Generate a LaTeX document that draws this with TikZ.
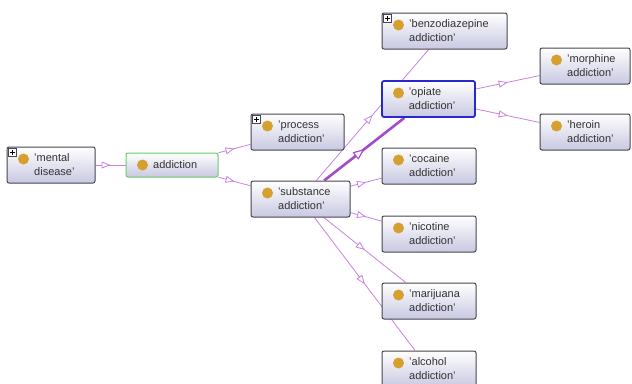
\documentclass[tikz,border=0pt]{standalone}
\usepackage{fontspec}
\setmainfont{Liberation Sans}
\usetikzlibrary{arrows.meta,decorations.markings,backgrounds}

\definecolor{clsline}{RGB}{70,70,80}
\definecolor{clsbot}{RGB}{200,200,226}
\definecolor{clsdot}{RGB}{214,160,48}
\definecolor{isacol}{RGB}{198,132,222}
\definecolor{isadark}{RGB}{166,74,204}
\definecolor{selgreen}{RGB}{104,204,104}
\definecolor{selblue}{RGB}{40,40,204}

\tikzset{
  cls/.style={draw=clsline, line width=1pt, rounded corners=2pt,
    top color=white, bottom color=clsbot,
    minimum width=94pt, minimum height=36pt, inner sep=0pt,
    path picture={\fill[clsdot] ([shift={(16.5pt,-12pt)}]path picture bounding box.north west) circle (5.5pt);}},
  clstext/.style={anchor=west, xshift=27.5pt, inner sep=0pt, align=left,
    font=\fontsize{11}{14}\selectfont, text=black!80},
  isa/.style={draw=isacol, line width=0.8pt, postaction={decorate},
    decoration={markings, mark=at position 0.5 with {\arrow{Triangle[length=9pt,width=7pt,fill=white]}}}},
  bigisa/.style={isa, draw=isadark, line width=2.6pt,
    decoration={markings, mark=at position 0.5 with {\arrow{Triangle[length=11pt,width=9pt,line width=1pt,fill=white]}}}},
}

\begin{document}
\begin{tikzpicture}[x=1pt,y=1pt]
    \useasboundingbox (0,0) rectangle (632,-383);
    \clip (0,0) rectangle (632,-383);

    % First column of nodes
    \node[cls, minimum width=88pt, label={[clstext]west:{'mental\\disease'}}] (mental) at (51,-165) {};
    \node[cls, draw=selgreen, minimum width=92pt, minimum height=24pt, label={[clstext]west:{addiction}}] (addiction) at (172,-165) {};

    % Second column of nodes
    \node[cls, minimum width=93pt, label={[clstext]west:{'process\\addiction'}}] (process) at (297.5,-132) {};
    \node[cls, minimum width=99pt, label={[clstext]west:{'substance\\addiction'}}] (substance) at (300.5,-199) {};

    % Third column of nodes
    \node[cls, minimum width=125pt, label={[clstext]west:{'benzodiazepine\\addiction'}}] (benzo) at (444.5,-31) {};
    \node[cls, draw=selblue, line width=1.8pt, minimum width=93pt, label={[clstext]west:{'opiate\\addiction'}}] (opiate) at (428.5,-99) {};
    \node[cls, label={[clstext]west:{'cocaine\\addiction'}}] (cocaine) at (429,-166) {};
    \node[cls, label={[clstext]west:{'nicotine\\addiction'}}] (nicotine) at (429,-234) {};
    \node[cls, label={[clstext]west:{'marijuana\\addiction'}}] (marijuana) at (429,-301) {};
    \node[cls, label={[clstext]west:{'alcohol\\addiction'}}] (alcohol) at (429,-369) {};

    % Fourth column of nodes
    \node[cls, minimum width=90pt, label={[clstext]west:{'morphine\\addiction'}}] (morphine) at (585,-66) {};
    \node[cls, minimum width=90pt, label={[clstext]west:{'heroin\\addiction'}}] (heroin) at (585,-132) {};

    % Expand boxes
    \foreach \n in {mental,process,benzo} {
      \draw[fill=white, draw=clsline, line width=0.6pt] ([shift={(2,-2)}]\n.north west) rectangle ++(8,-8);
      \draw[line width=0.7pt] ([shift={(6,-3.6)}]\n.north west) -- ++(0,-4.8)
                              ([shift={(3.6,-6)}]\n.north west) -- ++(4.8,0);
    }

    % Edges between nodes
    \begin{scope}[on background layer]
      \fill[white] (0,0) rectangle (632,-383);
      \draw[isa] (mental) -- (addiction);
      \draw[isa] (addiction) -- (process);
      \draw[isa] (addiction) -- (substance);

      \draw[isa] (substance) -- (benzo);
      \draw[bigisa] (substance) -- (opiate);
      \draw[isa] (substance) -- (cocaine);
      \draw[isa] (substance) -- (nicotine);
      \draw[isa] (substance) -- (marijuana);
      \draw[isa] (substance) -- (alcohol);

      \draw[isa] (opiate) -- (morphine);
      \draw[isa] (opiate) -- (heroin);
    \end{scope}
\end{tikzpicture}
\end{document}
